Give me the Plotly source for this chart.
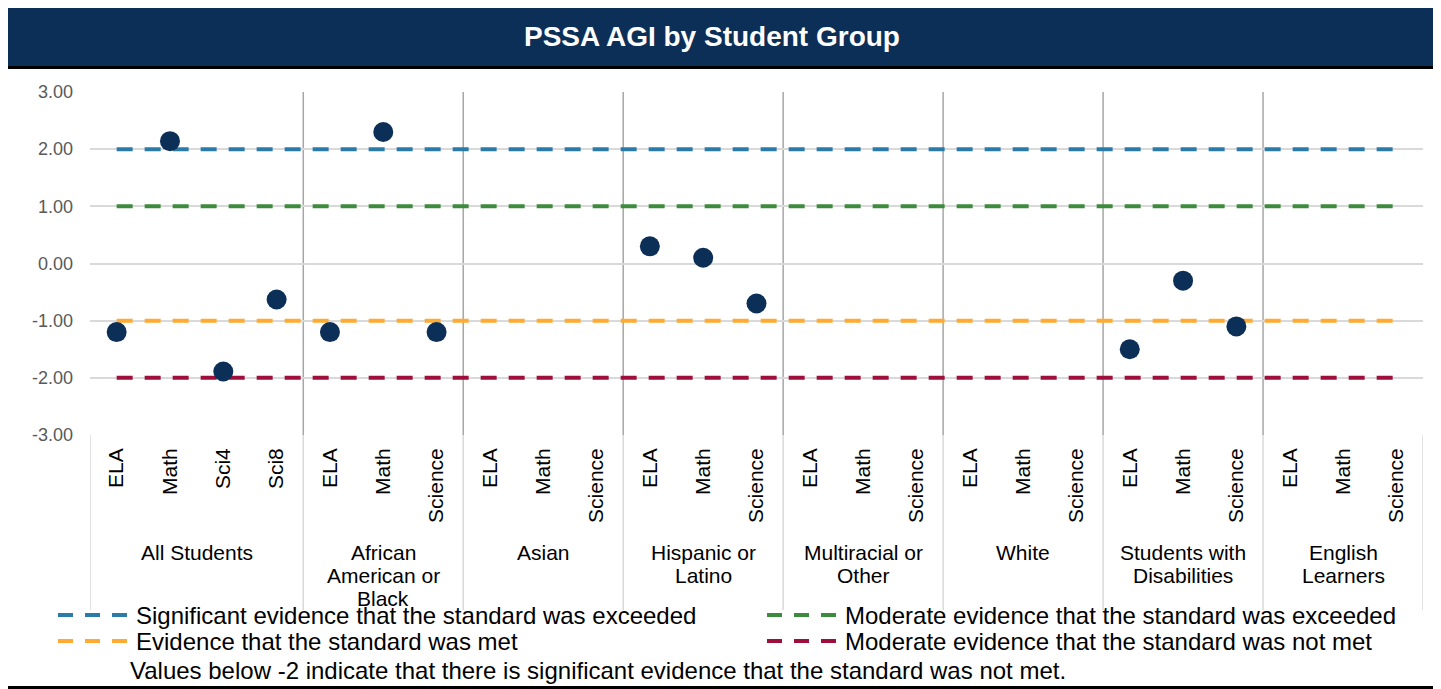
import plotly.graph_objects as go

# Datos
groups = ["All Students", "African American or Black", "Asian", "Hispanic or Latino",
          "Multiracial or Other", "White", "Students with Disabilities", "English Learners"]
group_lines = [["All Students"], ["African", "American or", "Black"], ["Asian"],
               ["Hispanic or", "Latino"], ["Multiracial or", "Other"], ["White"],
               ["Students with", "Disabilities"], ["English", "Learners"]]
subjects = [["ELA", "Math", "Sci4", "Sci8"]] + [["ELA", "Math", "Science"]] * 7
agi = [
    [-1.2, 2.14, -1.89, -0.63],
    [-1.2, 2.3, -1.2],
    [None, None, None],
    [0.3, 0.1, -0.7],
    [None, None, None],
    [None, None, None],
    [-1.5, -0.3, -1.1],
    [None, None, None],
]

y_ticks = [-3, -2, -1, 0, 1, 2, 3]
y_tick_text = ["-3.00", "-2.00", "-1.00", "0.00", "1.00", "2.00", "3.00"]

ref_names = ["Significant evidence that the standard was exceeded",
             "Moderate evidence that the standard was exceeded",
             "Evidence that the standard was met",
             "Moderate evidence that the standard was not met"]
ref_values = [2, 1, -1, -2]
ref_colors = ["#2A7BA8", "#3D8B3D", "#FFAA33", "#9E0F3B"]

footnote = "Values below -2 indicate that there is significant evidence that the standard was not met."
title = "PSSA AGI by Student Group"

NAVY = "#0C2F57"
FONT = "Liberation Sans, Arial, sans-serif"

# posiciones de categorias
tick_labels, xs, ys, starts = [], [], [], []
for subs, vals in zip(subjects, agi):
    starts.append(len(tick_labels))
    for s, v in zip(subs, vals):
        xs.append(len(tick_labels))
        ys.append(v)
        tick_labels.append(s)
n = len(tick_labels)
all_x = list(range(n))

# la pagina tiene 8px de margen en body
OFF = 8
L, R, T, B = 90, 1423, 92, 435  # area del grafico en la referencia
W, H = 1441 - OFF, 689 - OFF


def px(x):
    return (x - L) / (R - L)


def py(y):
    return (B - y) / (B - T)


fig = go.Figure()

for name, val, col in zip(ref_names, ref_values, ref_colors):
    fig.add_trace(go.Scatter(x=all_x, y=[val] * n, mode="lines", name=name,
                             line=dict(color=col, width=4, dash="16px,12px"),
                             showlegend=False, hoverinfo="skip"))

fig.add_trace(go.Scatter(x=xs, y=ys, mode="markers", name="AGI",
                         marker=dict(color=NAVY, size=20), showlegend=False))

shapes = []
# separadores en el area del grafico
for st in starts[1:]:
    shapes.append(dict(type="line", xref="x", yref="y", x0=st - 0.5, x1=st - 0.5, y0=-3, y1=3,
                       line=dict(color="#A6A6A6", width=1.5), layer="below"))
# separadores en el area de etiquetas
for st in starts + [n]:
    shapes.append(dict(type="line", xref="x", yref="paper", x0=st - 0.5, x1=st - 0.5,
                       y0=py(610), y1=0, line=dict(color="#D9D9D9", width=1.5)))

# barra del titulo y borde
shapes.append(dict(type="rect", xref="paper", yref="paper", x0=px(2), x1=px(1437),
                   y0=py(67), y1=py(4), fillcolor=NAVY, line=dict(width=0)))
shapes.append(dict(type="line", xref="paper", yref="paper", x0=px(1), x1=px(1438),
                   y0=py(67.5), y1=py(67.5), line=dict(color="black", width=3)))
shapes.append(dict(type="rect", xref="paper", yref="paper", x0=px(1.5), x1=px(1437.5),
                   y0=py(687.5), y1=py(3), line=dict(color="black", width=3)))

annotations = [dict(text="<b>" + title + "</b>", xref="paper", yref="paper", x=px(712), y=py(36),
                    xanchor="center", yanchor="middle", showarrow=False,
                    font=dict(family=FONT, size=28, color="white"))]

# leyenda manual
leg_pos = [(58, 615), (767, 615), (58, 641), (767, 641)]
for (lx, ly), name, col in zip(leg_pos, ref_names, ref_colors):
    shapes.append(dict(type="line", xref="paper", yref="paper", x0=px(lx), x1=px(lx + 70),
                       y0=py(ly), y1=py(ly), line=dict(color=col, width=4, dash="15px,12px")))
    annotations.append(dict(text=name, xref="paper", yref="paper", x=px(lx + 76), y=py(ly),
                            xanchor="left", yanchor="middle", showarrow=False,
                            font=dict(family=FONT, size=24, color="black")))

annotations.append(dict(text=footnote, xref="paper", yref="paper", x=px(128), y=py(670),
                        xanchor="left", yanchor="middle", showarrow=False,
                        font=dict(family=FONT, size=24, color="black")))

# etiquetas de grupo
for st, subs, lines in zip(starts, subjects, group_lines):
    cx = st + (len(subs) - 1) / 2
    for i, ln in enumerate(lines):
        annotations.append(dict(text=ln, xref="x", yref="paper", x=cx, y=py(552 + 23 * i),
                                xanchor="center", yanchor="middle", showarrow=False,
                                font=dict(family=FONT, size=21, color="black")))

fig.update_layout(
    width=W, height=H,
    margin=dict(l=L - OFF, r=1441 - R, t=T - OFF, b=689 - B, pad=0),
    paper_bgcolor="white", plot_bgcolor="white",
    font=dict(family=FONT),
    xaxis=dict(range=[-0.5, n - 0.5], tickvals=all_x, ticktext=tick_labels, tickangle=-90,
               tickfont=dict(family=FONT, size=21, color="black"), showgrid=False,
               zeroline=False, showline=False, ticks="", ticklabelstandoff=8),
    yaxis=dict(range=[-3, 3], tickvals=y_ticks, ticktext=y_tick_text, showgrid=True,
               gridcolor="#D9D9D9", gridwidth=1.5, zeroline=False, showline=False, ticks="",
               tickfont=dict(family=FONT, size=18, color="#595959"), ticklabelstandoff=16),
    shapes=shapes,
    annotations=annotations,
)

fig.write_html("out.html")
